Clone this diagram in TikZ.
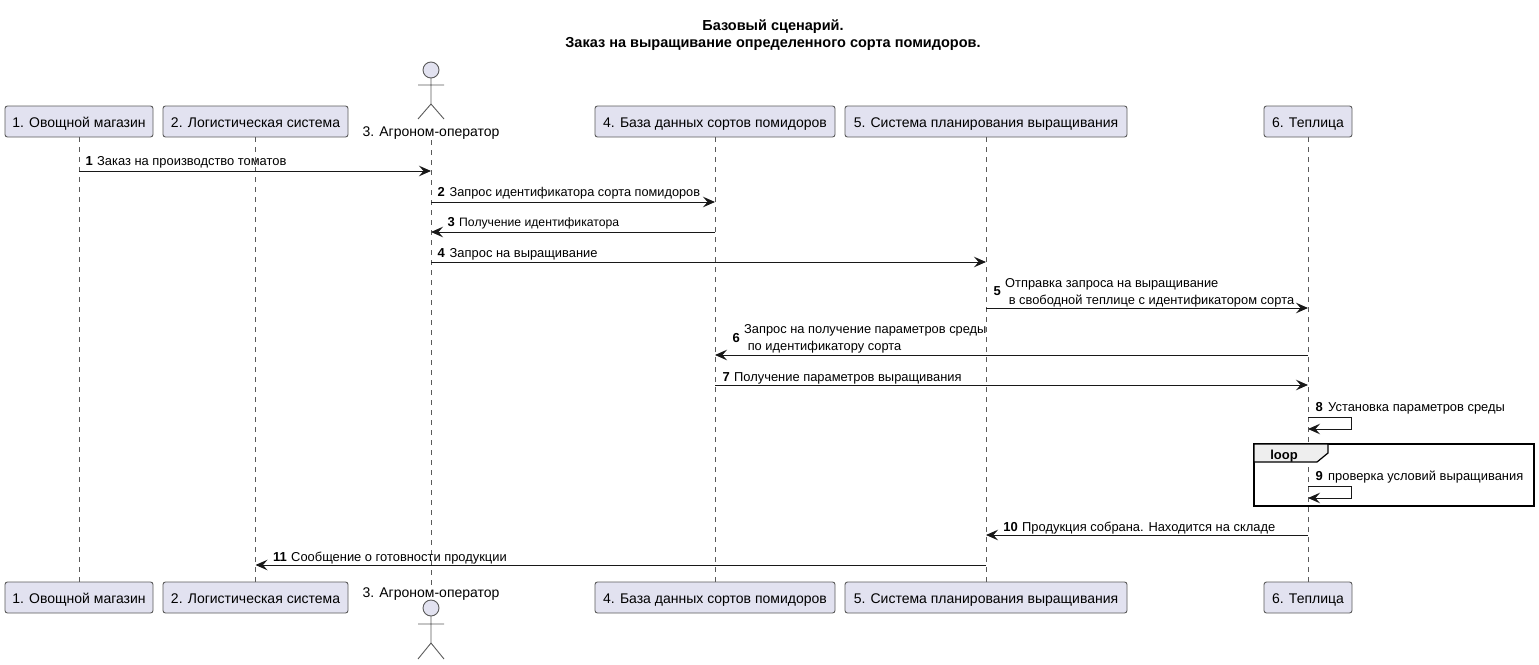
\documentclass[tikz,border=0pt]{standalone}
\usepackage{fontspec}
\setmainfont{Liberation Sans}
\usetikzlibrary{arrows.meta, calc}
\definecolor{boxfill}{HTML}{E2E2F0}
\definecolor{boxline}{HTML}{5A5A5A}
\definecolor{tabfill}{HTML}{EEEEEE}
\definecolor{msgline}{HTML}{181818}
\tikzset{
    part/.style={draw=boxline, fill=boxfill, rounded corners=2.5pt, line width=0.9pt, minimum height=31pt, inner sep=0pt, text height=13pt, text depth=2pt, font=\fontsize{14}{16}\selectfont},
    actorname/.style={inner sep=0pt, font=\fontsize{14}{16}\selectfont},
    actorline/.style={draw=boxline, line width=0.9pt},
    lifeline/.style={draw=boxline, line width=0.8pt, dash pattern=on 5pt off 5pt},
    msg/.style={draw=msgline, line width=1pt, -{Stealth[length=12pt,width=10.5pt,inset=4.5pt]}},
    num/.style={inner sep=0pt, anchor=base east, font=\fontsize{13}{14}\bfseries\selectfont},
    txt/.style={inner sep=0pt, anchor=base west, font=\fontsize{12.9}{14}\selectfont},
    txttwo/.style={txt, align=left, anchor=west, font=\fontsize{12.85}{17.5}\selectfont}
}
\begin{document}
\begin{tikzpicture}[x=1pt,y=-1pt]
    \useasboundingbox (0,0) rectangle (1539,664);
    \node[inner sep=0pt, align=center, font=\fontsize{14.5}{17}\bfseries\selectfont] (title) at (773,35) {Базовый сценарий.\\Заказ на выращивание определенного сорта помидоров.};

    \node[part, minimum width=148pt] (p_1) at (79,121.5) {1. Овощной магазин};
    \node[part, minimum width=185pt] (p_2) at (255.5,121.5) {2. Логистическая система};
    \node[actorname] (p_3) at (431,133.5) {3. Агроном-оператор};
    \node[part, minimum width=240pt] (p_4) at (715,121.5) {4. База данных сортов помидоров};
    \node[part, minimum width=282pt] (p_5) at (986,121.5) {5. Система планирования выращивания};
    \node[part, minimum width=88pt] (p_6) at (1308,121.5) {6. Теплица};

    \node[part, minimum width=148pt] (q_1) at (79,597.5) {1. Овощной магазин};
    \node[part, minimum width=185pt] (q_2) at (255.5,597.5) {2. Логистическая система};
    \node[actorname] (q_3) at (431,594.5) {3. Агроном-оператор};
    \node[part, minimum width=240pt] (q_4) at (715,597.5) {4. База данных сортов помидоров};
    \node[part, minimum width=282pt] (q_5) at (986,597.5) {5. Система планирования выращивания};
    \node[part, minimum width=88pt] (q_6) at (1308,597.5) {6. Теплица};

    % actors
    \draw[actorline, fill=boxfill] (431,70) circle (8);
    \draw[actorline] (431,78) -- (431,104) (418,85) -- (444,85) (418,119) -- (431,104) -- (444,119);
    \draw[actorline, fill=boxfill] (431,608) circle (8);
    \draw[actorline] (431,616) -- (431,643) (418,624) -- (444,624) (418,659) -- (431,643) -- (444,659);

    % lifelines
    \draw[lifeline] (p_1.south) -- (q_1.north);
    \draw[lifeline] (p_2.south) -- (q_2.north);
    \draw[lifeline] (p_3.south) -- (q_3.north);
    \draw[lifeline] (p_4.south) -- (q_4.north);
    \draw[lifeline] (p_5.south) -- (q_5.north);
    \draw[lifeline] (p_6.south) -- (q_6.north);

    % messages
    \draw[msg] (p_1 |- 0,171) -- (p_3 |- 0,171);
    \node[num] (n_1) at (93,165.5) {1};
    \node[txt] (t_1) at (97,165.5) {Заказ на производство томатов};

    \draw[msg] (p_3 |- 0,202) -- (p_4 |- 0,202);
    \node[num] (n_2) at (445,196.5) {2};
    \node[txt, font=\fontsize{12.75}{14}\selectfont] (t_2) at (449.5,196.5) {Запрос идентификатора сорта помидоров};

    \draw[msg] (p_4 |- 0,232) -- (p_3 |- 0,232);
    \node[num] (n_3) at (455,226.5) {3};
    \node[txt, font=\fontsize{12.2}{14}\selectfont] (t_3) at (459,226.5) {Получение идентификатора};

    \draw[msg] (p_3 |- 0,262) -- (p_5 |- 0,262);
    \node[num] (n_4) at (445,257) {4};
    \node[txt] (t_4) at (449.5,257) {Запрос на выращивание};

    \draw[msg] (p_5 |- 0,308) -- (p_6 |- 0,308);
    \node[num] (n_5) at (1001,295) {5};
    \node[txttwo] (t_5) at (1005,293) {Отправка запроса на выращивание\\ \ в свободной теплице с идентификатором сорта};

    \draw[msg] (p_6 |- 0,355) -- (p_4 |- 0,355);
    \node[num] (n_6) at (740,342) {6};
    \node[txttwo] (t_6) at (744,339) {Запрос на получение параметров среды\\ \ по идентификатору сорта};

    \draw[msg] (p_4 |- 0,385) -- (p_6 |- 0,385);
    \node[num] (n_7) at (730,381) {7};
    \node[txt] (t_7) at (734,381) {Получение параметров выращивания};

    \draw[msg] (p_6 |- 0,417) -- (1351,417) -- (1351,429) -- (p_6 |- 0,429);
    \node[num] (n_8) at (1323,411) {8};
    \node[txt] (t_8) at (1328,411) {Установка параметров среды};

    % loop
    \draw[black, line width=1.6pt] (1254,444) rectangle (1534,506);
    \draw[black, line width=1.2pt, fill=tabfill] (1254,444) -- (1328,444) -- (1328,453) -- (1317,462) -- (1254,462) -- cycle;
    \node[inner sep=0pt, anchor=base, font=\fontsize{13}{14}\bfseries\selectfont] (l_1) at (1284,459) {loop};

    \draw[msg] (p_6 |- 0,486) -- (1351,486) -- (1351,498) -- (p_6 |- 0,498);
    \node[num] (n_9) at (1323,480) {9};
    \node[txt] (t_9) at (1328,480) {проверка условий выращивания};

    \draw[msg] (p_6 |- 0,535) -- (p_5 |- 0,535);
    \node[num] (n_10) at (1018,531) {10};
    \node[txt] (t_10) at (1022,531) {Продукция собрана. Находится на складе};

    \draw[msg] (p_5 |- 0,565) -- (p_2 |- 0,565);
    \node[num] (n_11) at (287,561) {11};
    \node[txt] (t_11) at (291,561) {Сообщение о готовности продукции};
\end{tikzpicture}
\end{document}
